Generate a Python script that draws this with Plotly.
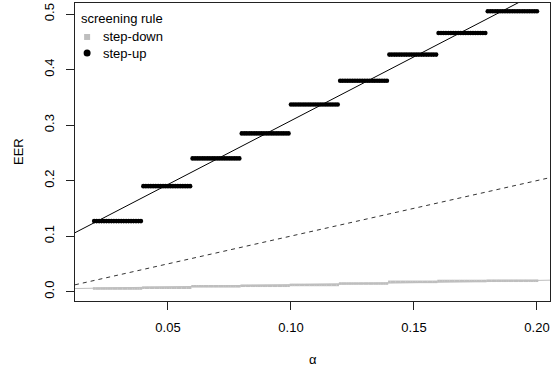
import numpy as np
import plotly.graph_objects as go

# significance levels at which each screening rule was evaluated
alpha_start = 0.02
alpha_stop = 0.20
alpha_step = 0.001

# breakpoints of alpha where the error rate jumps
step_edges = [0.02, 0.04, 0.06, 0.08, 0.10, 0.12, 0.14, 0.16, 0.18, 0.2001]

# EER on each alpha interval
eer_step_up = [0.127, 0.190, 0.240, 0.285, 0.337, 0.380, 0.427, 0.466, 0.505]
eer_step_down = [0.0055, 0.0070, 0.0095, 0.0105, 0.0120, 0.0145, 0.0175, 0.0190, 0.0195]

# reference lines (intercept, slope)
fit_step_up = (0.078, 2.30)
fit_step_down = (0.0045, 0.078)
identity_line = (0.0, 1.0)

x_range = [0.0122, 0.2053]
y_range = [-0.017, 0.520]
x_ticks = [0.05, 0.10, 0.15, 0.20]
x_ticklabels = ["0.05", "0.10", "0.15", "0.20"]
y_ticks = [0.0, 0.1, 0.2, 0.3, 0.4, 0.5]
y_ticklabels = ["0.0", "0.1", "0.2", "0.3", "0.4", "0.5"]

alpha = np.round(np.arange(alpha_start, alpha_stop + alpha_step / 2, alpha_step), 4)
idx = np.searchsorted(step_edges, alpha, side="right") - 1
idx = np.clip(idx, 0, len(eer_step_up) - 1)
y_up = np.array(eer_step_up)[idx]
y_down = np.array(eer_step_down)[idx]

GRAY = "#bebebe"
FONT = "Liberation Sans, Arial, Helvetica, sans-serif"

fig = go.Figure()

def abline(a, b, **line):
    xs = np.array(x_range)
    fig.add_trace(go.Scatter(x=xs, y=a + b * xs, mode="lines", line=line,
                             showlegend=False, hoverinfo="skip"))

abline(*fit_step_down, color=GRAY, width=1)
abline(*identity_line, color="#333333", width=1, dash="4px,4px")

fig.add_trace(go.Scatter(x=alpha, y=y_down, mode="markers", name="step-down",
                         marker=dict(symbol="square", size=2.6, color=GRAY, line=dict(width=0)),
                         showlegend=False))
fig.add_trace(go.Scatter(x=alpha, y=y_up, mode="markers", name="step-up",
                         marker=dict(symbol="circle", size=4.6, color="black", line=dict(width=0)),
                         showlegend=False))

abline(*fit_step_up, color="black", width=1)

# legend drawn on an overlay axis spanning the plotting region
fig.add_trace(go.Scatter(x=[0.0255], y=[0.886], xaxis="x2", yaxis="y2", mode="markers",
                         marker=dict(symbol="square", size=6, color=GRAY, line=dict(width=0)),
                         showlegend=False, hoverinfo="skip"))
fig.add_trace(go.Scatter(x=[0.0255], y=[0.832], xaxis="x2", yaxis="y2", mode="markers",
                         marker=dict(symbol="circle", size=7, color="black", line=dict(width=0)),
                         showlegend=False, hoverinfo="skip"))

annotations = [
    dict(text="screening rule", x=0.008, y=0.948, xref="x2", yref="y2",
         xanchor="left", yanchor="middle", showarrow=False, font=dict(size=13)),
    dict(text="step-down", x=0.054, y=0.886, xref="x2", yref="y2",
         xanchor="left", yanchor="middle", showarrow=False, font=dict(size=13)),
    dict(text="step-up", x=0.054, y=0.832, xref="x2", yref="y2",
         xanchor="left", yanchor="middle", showarrow=False, font=dict(size=13)),
    dict(text="EER", x=18, y=152, xref="paper", yref="paper", showarrow=False,
         xanchor="center", yanchor="middle", textangle=-90, font=dict(size=13)),
    dict(text="α", x=313, y=359, xref="paper", yref="paper", showarrow=False,
         xanchor="center", yanchor="middle", font=dict(size=13)),
]
# convert pixel positions of axis titles into paper fractions
W, H = 555, 370
L, R, T, B = 75, 5, 3, 69
pw, ph = W - L - R, H - T - B
for a in annotations[3:]:
    a["x"] = (a["x"] - L) / pw
    a["y"] = (H - B - a["y"]) / ph

fig.update_layout(
    width=W, height=H,
    margin=dict(l=L, r=R, t=T, b=B, pad=0),
    paper_bgcolor="white", plot_bgcolor="white",
    font=dict(family=FONT, size=13, color="black"),
    annotations=annotations,
    xaxis=dict(range=x_range, tickvals=x_ticks, ticktext=x_ticklabels,
               showgrid=False, zeroline=False, showline=True, mirror=True,
               linecolor="#222222", linewidth=1, ticks="outside", ticklen=8,
               tickcolor="#222222", tickwidth=1, ticklabelstandoff=6),
    yaxis=dict(range=y_range, tickvals=y_ticks, ticktext=y_ticklabels,
               showgrid=False, zeroline=False, showline=True, mirror=True,
               linecolor="#222222", linewidth=1, ticks="outside", ticklen=8,
               tickcolor="#222222", tickwidth=1, tickangle=-90, ticklabelstandoff=7),
    xaxis2=dict(range=[0, 1], overlaying="x", visible=False, fixedrange=True),
    yaxis2=dict(range=[0, 1], overlaying="y", visible=False, fixedrange=True),
    showlegend=False,
)

fig.write_html("out.html")
